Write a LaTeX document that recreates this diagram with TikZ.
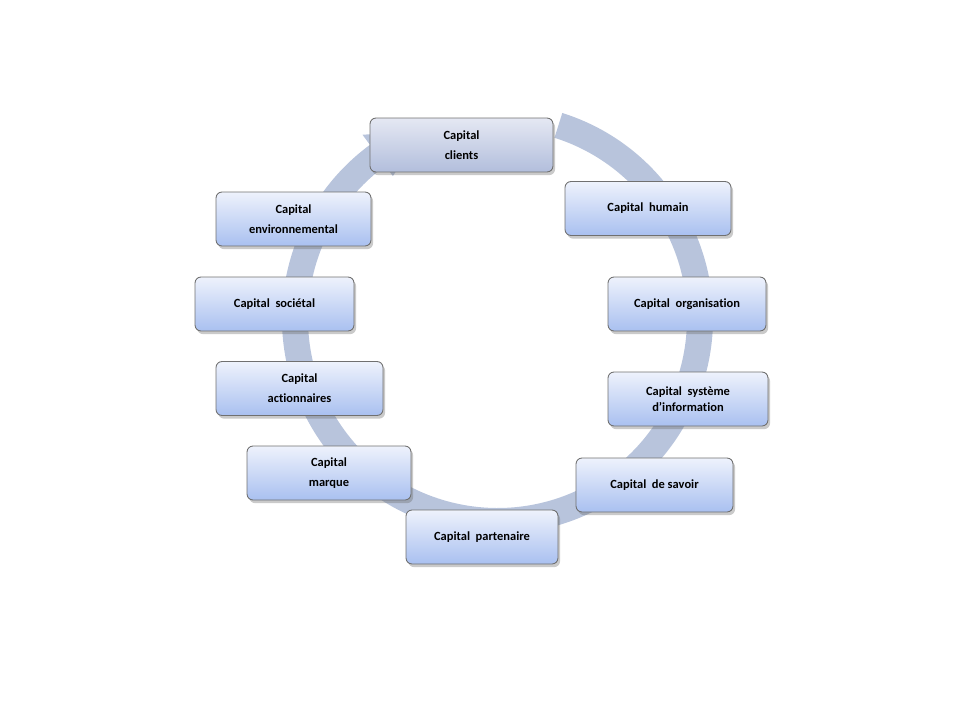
\documentclass[tikz,border=0pt]{standalone}
\usepackage{fontspec}
\setmainfont{Carlito}[Ligatures=NoCommon]
\usetikzlibrary{shadings,shadows}
\definecolor{ringblue}{HTML}{B8C4DC}
\definecolor{boxtop}{HTML}{EEF2FC}
\definecolor{boxbottom}{HTML}{A9C0F0}
\definecolor{clienttop}{HTML}{E5E8F3}
\definecolor{clientbottom}{HTML}{B2BEDC}
\definecolor{boxline}{HTML}{707070}
\tikzset{
    capbox/.style={draw=boxline, line width=0.5pt, rounded corners=0.12cm,
        top color=boxtop, bottom color=boxbottom,
        minimum height=1.08cm, align=center, inner sep=1pt,
        font=\fontsize{7.1}{11.3}\selectfont\bfseries,
        drop shadow={shadow xshift=1.2pt, shadow yshift=-1.8pt, opacity=0.35, fill=black!60}},
    capgrey/.style={capbox, top color=clienttop, bottom color=clientbottom}
}
\begin{document}
\begin{tikzpicture}[x=0.02cm, y=-0.02cm]
        \useasboundingbox (0,0) rectangle (960,720);
        % circular arrow behind the boxes
        \begin{scope}[shift={(497.5,318.5)}, yscale=-1]
            \fill[ringblue] (72.5:215.5) arc[start angle=72.5, end angle=-233.7, radius=215.5]
                -- (-233.7:228) -- (-248:202.5) -- (-233.7:176.7) -- (-233.7:189.5)
                arc[start angle=-233.7, end angle=72.5, radius=189.5] -- cycle;
        \end{scope}
        % capital boxes
        \node[capgrey, minimum width=3.66cm] (clients)         at (461.5,145) {Capital\\clients};
        \node[capbox,  minimum width=3.32cm] (humain)          at (648,208.5) {Capital\ \ humain};
        \node[capbox,  minimum width=3.16cm] (organisation)    at (687,304)   {Capital\ \ organisation};
        \node[capbox,  minimum width=3.2cm, font=\fontsize{7.1}{9}\selectfont\bfseries]
                                             (systeme)         at (688,399)   {Capital\ \ système\\d’information};
        \node[capbox,  minimum width=3.14cm] (savoir)          at (654.5,485) {Capital\ \ de savoir};
        \node[capbox,  minimum width=3.04cm] (partenaire)      at (482,537)   {Capital\ \ partenaire};
        \node[capbox,  minimum width=3.28cm] (marque)          at (329,473)   {Capital\\marque};
        \node[capbox,  minimum width=3.34cm] (actionnaires)    at (299.5,388.5) {Capital\\actionnaires};
        \node[capbox,  minimum width=3.18cm] (societal)        at (274.5,304) {Capital\ \ sociétal};
        \node[capbox,  minimum width=3.1cm]  (environnemental) at (293.5,219) {Capital\\environnemental};
    \end{tikzpicture}
\end{document}
